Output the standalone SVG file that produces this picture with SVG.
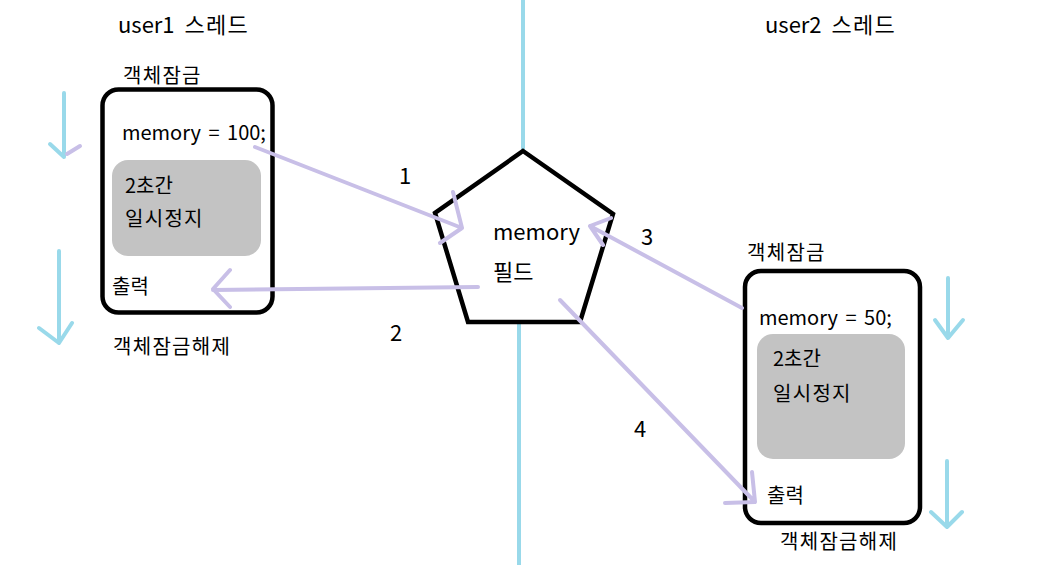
<svg xmlns="http://www.w3.org/2000/svg" width="1047" height="565" viewBox="0 0 1047 565">
<style>
text{font-family:"Noto Sans CJK KR","Noto Sans",sans-serif;fill:#000}
.t22{font-size:22px;word-spacing:5px}
.t20{font-size:20px;word-spacing:3px}
.k{letter-spacing:1.3px}
.box{fill:#fff;stroke:#000;stroke-width:4.5}
.gray{fill:#c3c3c3}
.cy{fill:none;stroke:#99d9ea;stroke-width:4;stroke-linecap:round;stroke-linejoin:round}
.pu{fill:none;stroke:#c8bfe7;stroke-width:4;stroke-linecap:round;stroke-linejoin:round}
</style>
<rect width="1047" height="565" fill="#fff"/>
<g id="divider">
<line x1="523" y1="0" x2="523" y2="151" class="cy" stroke-linecap="butt"/>
<line x1="519" y1="322" x2="519" y2="565" class="cy" stroke-linecap="butt"/>
</g>
<g id="user1">
<text x="118" y="33" class="t22">user1 <tspan class="k">스레드</tspan></text>
<text x="123" y="83" class="t20 k">객체잠금</text>
<rect x="102.5" y="89.5" width="170" height="223" rx="16" class="box"/>
<text x="122" y="140" class="t20">memory = 100;</text>
<rect x="112" y="160" width="149" height="96" rx="16" class="gray"/>
<text x="125" y="193" class="t20">2초간</text>
<text x="125" y="226" class="t20 k">일시정지</text>
<text x="112" y="294" class="t20">출력</text>
<text x="113" y="354" class="t20 k">객체잠금해제</text>
<path d="M64 93 V157 M50 144 L64 157" class="cy"/>
<path d="M80 146 L67 154" class="pu"/>
<path d="M59 251 V343 M39 328 L59 343 L72 323" class="cy"/>
</g>
<g id="memory">
<polygon points="523,151 613,214 580,322 468,322 435,213" fill="#fff" stroke="#000" stroke-width="4.5"/>
<text x="493" y="240" class="t22">memory</text>
<text x="493" y="280" class="t22">필드</text>
</g>
<g id="user2">
<text x="765" y="33" class="t22">user2 <tspan class="k">스레드</tspan></text>
<text x="747" y="260" class="t20 k">객체잠금</text>
<rect x="745" y="271" width="175" height="252" rx="16" class="box"/>
<text x="759" y="325" class="t20">memory = 50;</text>
<rect x="757" y="334" width="148" height="125" rx="16" class="gray"/>
<text x="773" y="366" class="t20">2초간</text>
<text x="773" y="401" class="t20 k">일시정지</text>
<text x="767" y="503" class="t20">출력</text>
<text x="780" y="549" class="t20 k">객체잠금해제</text>
<path d="M948 278 V338 M935 320 L948 338 L963 320" class="cy"/>
<path d="M947 461 V527 M931 512 L947 527 L962 512" class="cy"/>
</g>
<g id="connectors">
<path d="M255 147 L462 228 M453 192 L462 228 L440 243" class="pu"/>
<path d="M478 287 L213 290 M230 270 L213 289 L230 307" class="pu"/>
<path d="M742 308 L590 226 M611 218 L590 226 L603 245" class="pu"/>
<path d="M560 300 L755 502 M752 472 L755 502 L725 503" class="pu"/>
<text x="399" y="184" class="t22">1</text>
<text x="390" y="341" class="t22">2</text>
<text x="641" y="245" class="t22">3</text>
<text x="634" y="437" class="t22">4</text>
</g>
</svg>
